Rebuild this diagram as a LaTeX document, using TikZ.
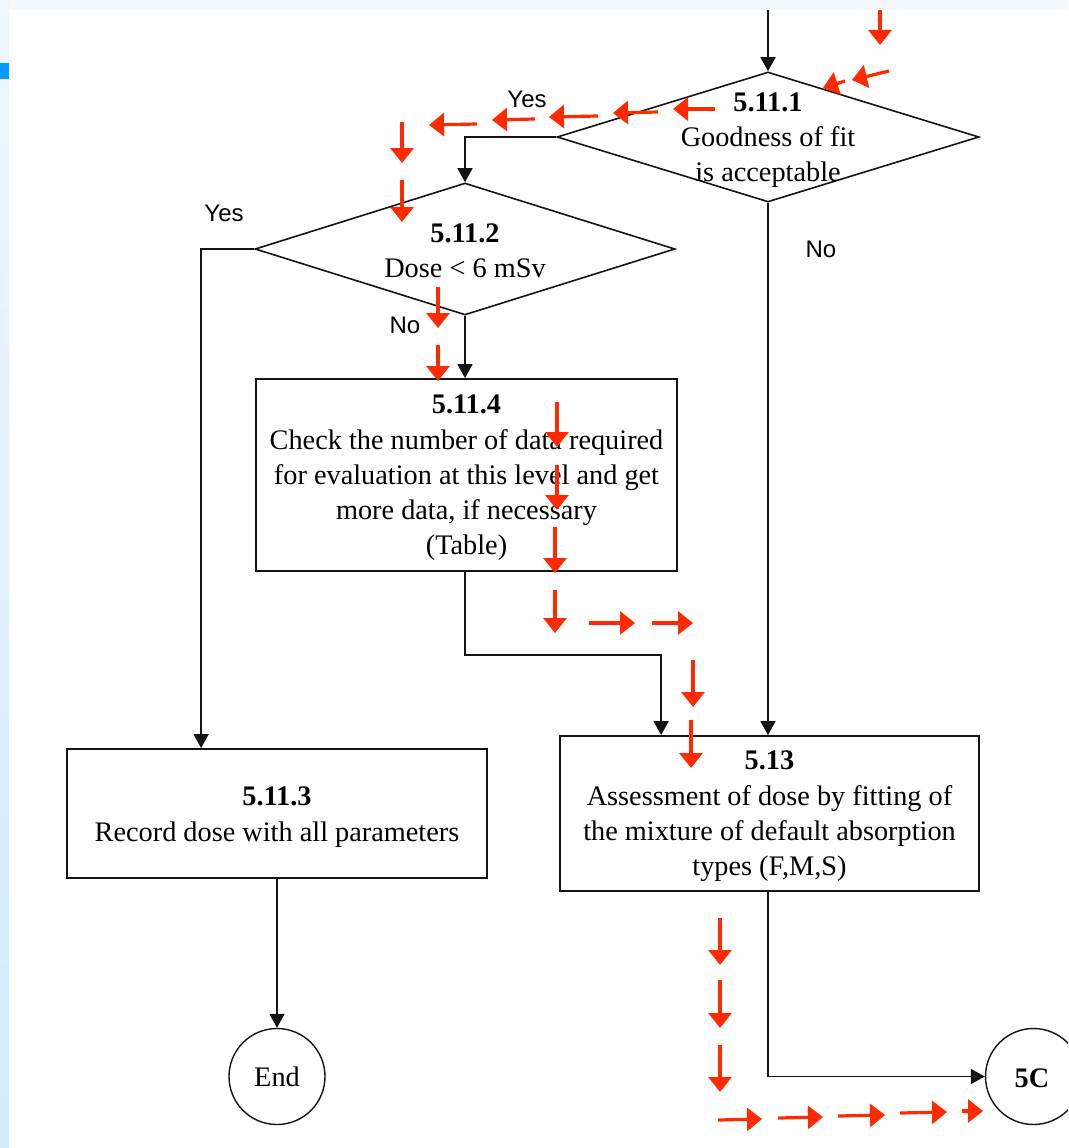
\documentclass[tikz,border=0pt]{standalone}
\usepackage{fontspec}
\setmainfont{Liberation Serif}
\newfontfamily\labelsans{Liberation Sans}
\usetikzlibrary{shapes.geometric,arrows.meta}

\definecolor{arrowred}{RGB}{255,42,0}
\definecolor{bandtop}{RGB}{243,248,253}
\definecolor{bandlight}{RGB}{238,246,254}
\definecolor{banddark}{RGB}{210,234,253}
\definecolor{markblue}{RGB}{0,153,255}
\definecolor{ink}{RGB}{20,20,20}

\tikzset{
  decision/.style={diamond, draw=ink, line width=1.6pt, inner sep=0pt, minimum width=#1},
  decision/.default=422pt,
  stepbox/.style={rectangle, draw=ink, line width=1.8pt, inner sep=0pt},
  terminal/.style={circle, draw=ink, line width=1.4pt, inner sep=0pt, minimum size=96pt},
  txt/.style={align=center, font=\fontsize{28.3}{35.3}\selectfont, inner sep=0pt},
  yesno/.style={font=\labelsans\fontsize{24}{28}\selectfont, inner sep=0pt},
  conn/.style={draw=ink, line width=1.6pt, -{Triangle[width=15pt,length=14pt]}},
  flow/.style={draw=arrowred, line width=3.2pt, -{Triangle[width=23pt,length=15pt]}}
}

\begin{document}
\begin{tikzpicture}[x=1pt, y=-1pt]
\useasboundingbox (0,0) rectangle (1068,1148);
\clip (0,0) rectangle (1068,1148);

% page frame
\fill[white] (0,0) rectangle (1068,1148);
\fill[bandtop] (0,0) rectangle (1068,10);
\shade[top color=bandlight, bottom color=banddark] (0,0) rectangle (9,1148);
\fill[markblue] (0,63) rectangle (9,79);

% decisions
\node[decision, minimum height=130pt] (d1) at (768,137) {};
\node[txt] (d1t) at (768,140) {\textbf{5.11.1}\\Goodness of fit\\is acceptable};
\node[decision=420pt, minimum height=132pt] (d2) at (465,249) {};
\node[txt] (d2t) at (465,251) {\textbf{5.11.2}\\Dose < 6 mSv};

% process boxes
\node[stepbox, minimum width=421pt, minimum height=192pt] (b4) at (466.5,475) {};
\node[txt] (b4t) at (466.5,478) {\textbf{5.11.4}\\Check the number of data required\\for evaluation at this level and get\\more data, if necessary\\(Table)};
\node[stepbox, minimum width=420pt, minimum height=129pt] (b3) at (277,813.5) {};
\node[txt] (b3t) at (277,817) {\textbf{5.11.3}\\Record dose with all parameters};
\node[stepbox, minimum width=419pt, minimum height=155pt] (b13) at (769.5,813.5) {};
\node[txt] (b13t) at (769.5,816.5) {\textbf{5.13}\\Assessment of dose by fitting of\\the mixture of default absorption\\types (F,M,S)};

% terminals
\node[terminal] (end) at (277,1076.5) {};
\node[txt] (endt) at (277,1077) {End};
\node[terminal] (c5) at (1033.5,1076.5) {};
\node[txt] (c5t) at (1032,1078) {\textbf{5C}};

% connectors
\coordinate (entry) at (768,10);
\draw[conn] (entry) -- (d1.north);
\draw[conn] (d1.west) -| (d2.north);
\draw[conn] (d2.west) -| ([xshift=135pt]b3.north west);
\draw[conn] (d2.south) -- (d2.south |- b4.north);
\draw[conn] (b4.south -| d2.south) -- ++(0,83) -| ([xshift=102pt]b13.north west);
\draw[conn] (d1.south) -- (d1.south |- b13.north);
\draw[conn] (b3.south) -- (end.north);
\draw[conn] (b13.south -| d1.south) |- (c5.west);

% branch labels
\node[yesno] (y1) at (527,99) {Yes};
\node[yesno] (y2) at (224,213) {Yes};
\node[yesno] (n2) at (405,325) {No};
\node[yesno] (n1) at (821,249) {No};

% red path markers
\draw[flow] (880,10) -- (880,45);
\draw[flow] (889,71) -- (852,80);
\draw[flow] (845,81) -- (823,88);
\foreach \xa/\ya/\xb/\yb in {715/109/673/109, 658/112/613/113, 598/116/549/117, 535/119/492/120, 477/124/429/125}
  \draw[flow] (\xa,\ya) -- (\xb,\yb);
\foreach \xa/\ya/\yb in {402/122/163, 402/180/222, 438/287/328, 438/345/381,
                         557/402/447, 557/465/510, 555/527/573, 555/590/633,
                         693/660/707, 691/720/768,
                         720/918/965, 720/980/1028, 720/1045/1092}
  \draw[flow] (\xa,\ya) -- (\xa,\yb);
\foreach \xa/\xb/\yy in {589/635/623, 652/693/623}
  \draw[flow] (\xa,\yy) -- (\xb,\yy);
\foreach \xa/\ya/\xb/\yb in {718/1120/762/1119, 778/1118/823/1117, 838/1116/885/1115, 900/1113/947/1112, 962/1111/983/1111}
  \draw[flow] (\xa,\ya) -- (\xb,\yb);
\end{tikzpicture}
\end{document}
